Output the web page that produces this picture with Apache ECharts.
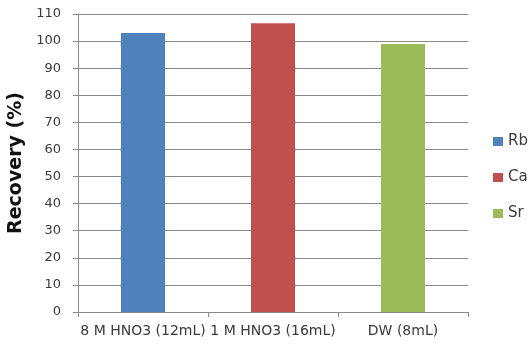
<!DOCTYPE html>
<html>
<head>
<meta charset="utf-8">
<script src="https://cdn.jsdelivr.net/npm/echarts@6/dist/echarts.min.js"></script>
<style>
  html, body { margin: 0; padding: 0; background: #ffffff; }
  #chart { width: 528px; height: 345px; }
</style>
</head>
<body>
<div id="chart"></div>
<script>
// Elution conditions on the category axis
const categories = ['8 M HNO3 (12mL)', '1 M HNO3 (16mL)', 'DW (8mL)'];

// Recovery (%) per element; each element is measured under one condition
const rbRecovery = [103.0, null, null];
const caRecovery = [null, 106.6, null];
const srRecovery = [null, null, 98.9];

// Y axis range
const yMin = 0;
const yMax = 110;
const yStep = 10;

const font = 'DejaVu Sans, Verdana, sans-serif';
const axisGray = '#8a8a8a';
const textGray = '#3a3a3a';

const chart = echarts.init(document.getElementById('chart'));

function barSeries(name, data, color) {
  return {
    name: name,
    type: 'bar',
    stack: 'recovery',
    data: data,
    barWidth: 44,
    itemStyle: { color: color },
    emphasis: { disabled: true }
  };
}

chart.setOption({
  animation: false,
  grid: {
    left: 78, right: 60, top: 14, bottom: 33,
    containLabel: false,
    outerBoundsMode: 'none'
  },
  legend: {
    orient: 'vertical',
    left: 493,
    top: 134,
    padding: 0,
    itemWidth: 10,
    itemHeight: 9,
    itemGap: 21,
    icon: 'rect',
    textStyle: { fontFamily: font, fontSize: 15, color: textGray },
    data: ['Rb', 'Ca', 'Sr']
  },
  xAxis: {
    type: 'category',
    data: categories,
    boundaryGap: true,
    axisLine: { show: true, lineStyle: { color: axisGray, width: 1 } },
    axisTick: { show: true, length: 5, lineStyle: { color: axisGray } },
    axisLabel: { fontFamily: font, fontSize: 14, color: textGray, margin: 12, interval: 0, hideOverlap: false },
    splitLine: { show: false }
  },
  yAxis: {
    type: 'value',
    min: yMin,
    max: yMax,
    interval: yStep,
    name: 'Recovery (%)',
    nameLocation: 'middle',
    nameGap: 46,
    nameRotate: 90,
    nameTextStyle: { fontFamily: font, fontSize: 19, fontWeight: 'bold', color: '#111111' },
    axisLine: { show: true, lineStyle: { color: axisGray, width: 1 } },
    axisTick: { show: true, length: 5, lineStyle: { color: axisGray } },
    axisLabel: { fontFamily: font, fontSize: 13, color: textGray, margin: 17 },
    splitLine: { show: true, lineStyle: { color: axisGray, width: 1 } }
  },
  series: [
    barSeries('Rb', rbRecovery, '#4F81BD'),
    barSeries('Ca', caRecovery, '#C0504D'),
    barSeries('Sr', srRecovery, '#9BBB59')
  ]
});
</script>
</body>
</html>
